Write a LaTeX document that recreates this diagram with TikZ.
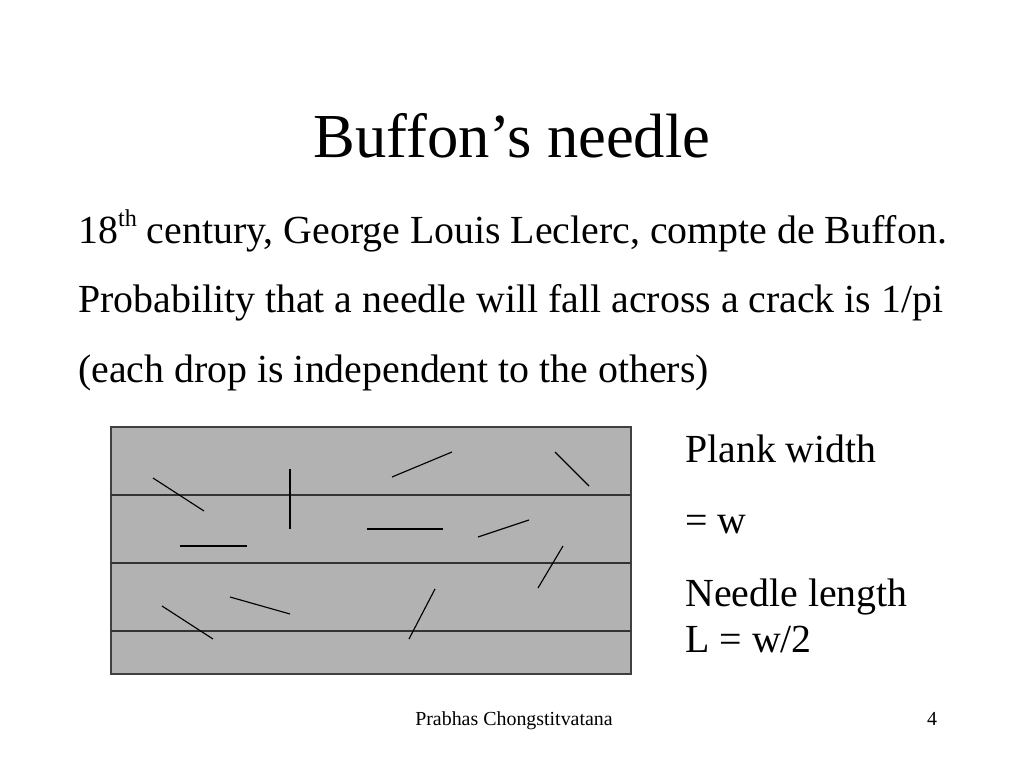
\documentclass[tikz,border=0pt]{standalone}
\usepackage{fontspec}
\setmainfont{Liberation Serif}

\begin{document}
\begin{tikzpicture}[
    x=0.703pt, y=-0.703pt,
    title/.style={font=\fontsize{44}{48}\selectfont, anchor=base},
    body/.style={font=\fontsize{28}{32}\selectfont, anchor=base west, inner sep=0pt},
    foot/.style={font=\fontsize{14}{16}\selectfont, anchor=base, inner sep=0pt},
    plank/.style={draw=black!75, fill=black!30, line width=1pt},
    crack/.style={draw=black!80, line width=0.9pt},
    needle/.style={draw=black, line width=0.8pt},
]
    \useasboundingbox (0,0) rectangle (1024,768);

    \node[title] (heading) at (512,157) {Buffon’s needle};
    \node[body] (century) at (78,243)
        {18\raisebox{0.42em}{\fontsize{17}{18}\selectfont th} century, George Louis Leclerc, compte de Buffon.};
    \node[body] (prob) at (78,312) {Probability that a needle will fall across a crack is 1/pi};
    \node[body] (indep) at (78,382) {(each drop is independent to the others)};

    % the floor of planks
    \draw[plank] (111,427) rectangle (631,674);
    \foreach \y in {495,563,631}
        \draw[crack] (111,\y) -- (631,\y);

    % the dropped needles
    \draw[needle] (153,478) -- (204,511);
    \draw[needle] (290,469) -- (290,529);
    \draw[needle] (180,546) -- (247,546);
    \draw[needle] (162,606) -- (213,639);
    \draw[needle] (230,597) -- (290,614);
    \draw[needle] (392,477) -- (452,452);
    \draw[needle] (555,452) -- (589,486);
    \draw[needle] (367,529) -- (443,529);
    \draw[needle] (478,537) -- (529,520);
    \draw[needle] (563,546) -- (538,588);
    \draw[needle] (435,589) -- (409,639);

    \node[body] (width) at (685,462) {Plank width};
    \node[body] (eqw) at (685,533) {= w};
    \node[body] (length) at (685,606) {Needle length};
    \node[body] (eql) at (685,652) {L = w/2};

    \node[foot] (author) at (514,725) {Prabhas Chongstitvatana};
    \node[foot] (page) at (932,725) {4};
\end{tikzpicture}
\end{document}
